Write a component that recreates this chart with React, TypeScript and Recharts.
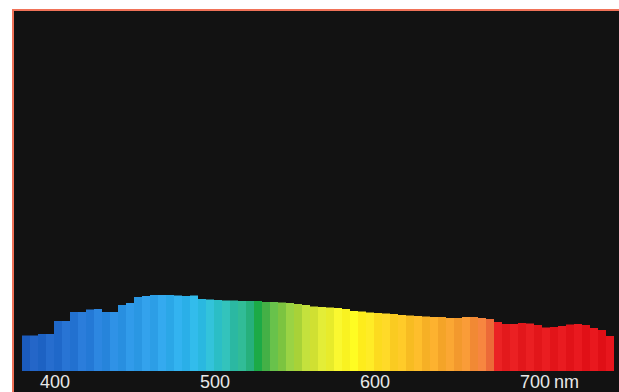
import { BarChart, Bar, XAxis, YAxis, Cell } from "recharts";

// wavelength bins (nm), 5 nm wide, start of each bin
const wavelengths = [
  380, 385, 390, 395, 400, 405, 410, 415, 420, 425, 430, 435, 440, 445, 450, 455, 460, 465, 470, 475,
  480, 485, 490, 495, 500, 505, 510, 515, 520, 525, 530, 535, 540, 545, 550, 555, 560, 565, 570, 575,
  580, 585, 590, 595, 600, 605, 610, 615, 620, 625, 630, 635, 640, 645, 650, 655, 660, 665, 670, 675,
  680, 685, 690, 695, 700, 705, 710, 715, 720, 725, 730, 735, 740, 745,
];

// relative spectral power (a.u.)
const power = [
  35.5, 35.5, 37, 37, 50, 50, 59, 59, 61.5, 62, 59, 59, 66, 68, 74, 75, 76, 76, 76, 75.5,
  75, 75.5, 72, 71.5, 71, 70.5, 70.5, 70, 70, 70, 69, 69, 68.5, 68, 67, 66, 64.5, 64, 63.5, 63,
  62, 60, 59.5, 58.5, 58, 57.5, 57, 56, 55.5, 55, 54.5, 54, 54, 53, 53, 54, 54, 53, 52, 49,
  47, 47, 48, 47.5, 46, 43.5, 44, 45, 46.5, 47, 46, 43, 41, 35,
];

const labelTicks = [400, 500, 600, 700];

const data = wavelengths.map((wl, i) => ({ wl, power: power[i] }));

// colour stops used to paint the spectrum
const colorStops: [number, string][] = [
  [380, "#1b5bbd"],
  [400, "#1f68c9"],
  [420, "#2479d6"],
  [440, "#288fe0"],
  [460, "#2c9ee6"],
  [480, "#2aafe8"],
  [490, "#2ab8e0"],
  [500, "#2bbec6"],
  [510, "#2bb8a2"],
  [520, "#26b07c"],
  [525, "#14a23e"],
  [530, "#44b046"],
  [540, "#7cc440"],
  [550, "#a8d238"],
  [560, "#d0e032"],
  [575, "#f2f028"],
  [585, "#fff41a"],
  [595, "#fde41e"],
  [605, "#fbd220"],
  [620, "#f7bc22"],
  [640, "#f4a428"],
  [655, "#f29430"],
  [665, "#ef7e38"],
  [670, "#ec6a38"],
  [675, "#e31a1c"],
  [750, "#e00d15"],
];

const hexToRgb = (h: string) => [
  parseInt(h.slice(1, 3), 16),
  parseInt(h.slice(3, 5), 16),
  parseInt(h.slice(5, 7), 16),
];

const spectrumColor = (wl: number, idx: number) => {
  // slight alternation gives the faint striping seen between bins
  const shade = idx % 2 === 0 ? 0 : 8;
  for (let i = 0; i < colorStops.length - 1; i++) {
    const [w0, c0] = colorStops[i];
    const [w1, c1] = colorStops[i + 1];
    if (wl >= w0 && wl <= w1) {
      const t = (wl - w0) / (w1 - w0);
      const a = hexToRgb(c0);
      const b = hexToRgb(c1);
      const rgb = a.map((v, k) => Math.min(255, Math.round(v + (b[k] - v) * t) + shade));
      return `rgb(${rgb[0]},${rgb[1]},${rgb[2]})`;
    }
  }
  return colorStops[colorStops.length - 1][1];
};

const WaveTick = (props: any) => {
  const { x, y, payload } = props;
  if (!labelTicks.includes(payload.value)) return <g />;
  return (
    <g fontFamily="Liberation Sans, Arial, sans-serif" fontSize={18} fill="#e8e8e8">
      <text x={x - 3} y={y} dy={17} textAnchor="middle">
        {payload.value}
      </text>
      {payload.value === 700 && (
        <text x={x + 16} y={y} dy={17} textAnchor="start">
          nm
        </text>
      )}
    </g>
  );
};

export default function App() {
  return (
    <div style={{ position: "absolute", left: 0, top: 0, width: 619, height: 392, overflow: "hidden", background: "#fff" }}>
      <div
        style={{
          position: "absolute",
          left: 12,
          top: 9,
          width: 620,
          height: 400,
          borderTop: "2px solid #f07258",
          borderLeft: "2px solid #f07258",
          background: "#121212",
        }}
      />
      <div style={{ position: "absolute", left: 0, top: 0 }}>
        <BarChart
          width={619}
          height={392}
          data={data}
          margin={{ top: 11, right: 5, bottom: 0, left: 22 }}
          barCategoryGap={0}
        >
          <XAxis
            dataKey="wl"
            interval={0}
            tick={<WaveTick />}
            tickLine={false}
            axisLine={false}
            tickSize={0}
            tickMargin={0}
            height={21}
          />
          <YAxis hide domain={[0, 360]} />
          <Bar dataKey="power" isAnimationActive={false}>
            {data.map((d, i) => (
              <Cell key={d.wl} fill={spectrumColor(d.wl, i)} />
            ))}
          </Bar>
        </BarChart>
      </div>
    </div>
  );
}
